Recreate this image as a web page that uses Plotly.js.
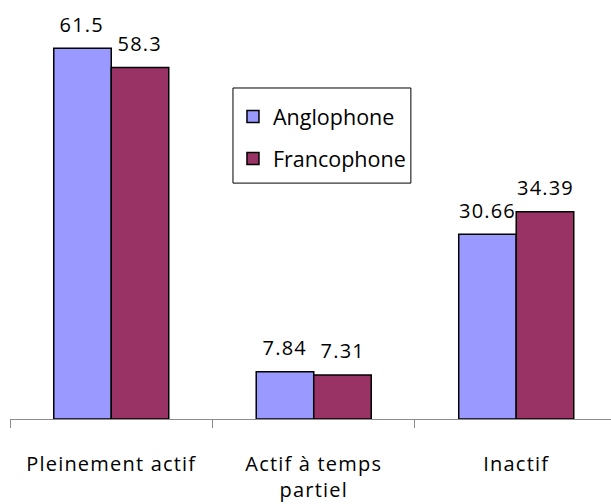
<!DOCTYPE html>
<html>
<head>
<meta charset="utf-8">
<script src="https://cdn.plot.ly/plotly-3.0.1.min.js"></script>
<style>
html,body{margin:0;padding:0;background:#fff;}
#chart{width:611px;height:504px;}
#chart svg text{letter-spacing:1.2px;}
#chart svg .legend text{letter-spacing:0;}
</style>
</head>
<body>
<div id="chart"></div>
<script>
const categories = ["Pleinement actif", "Actif à temps<br>partiel", "Inactif"];
const seriesNames = ["Anglophone", "Francophone"];
const anglophone = [61.5, 7.84, 30.66];
const francophone = [58.3, 7.31, 34.39];
const labelsAnglo = ["61.5", "7.84", "30.66"];
const labelsFranco = ["58.3", "7.31", "34.39"];

const FONT = "Open Sans, Arial, sans-serif";

const traces = [
  {type: "bar", name: seriesNames[0], x: categories, y: anglophone, legendgroup: "a",
   marker: {color: "#9999FF", line: {color: "#000", width: 1.5}}, hoverinfo: "none"},
  {type: "bar", name: seriesNames[1], x: categories, y: francophone, legendgroup: "f",
   marker: {color: "#993366", line: {color: "#000", width: 1.5}}, hoverinfo: "none"}
];

const annotations = [];
categories.forEach((c, i) => {
  annotations.push({x: c, y: anglophone[i], xref: "x", yref: "y", text: labelsAnglo[i],
    showarrow: false, xshift: -29, yshift: 24, yanchor: "middle",
    font: {family: FONT, size: 20, color: "#000"}});
  annotations.push({x: c, y: francophone[i], xref: "x", yref: "y", text: labelsFranco[i],
    showarrow: false, xshift: 29, yshift: 24, yanchor: "middle",
    font: {family: FONT, size: 20, color: "#000"}});
});

const layout = {
  width: 611, height: 504,
  margin: {l: 10, r: 0, t: 0, b: 85},
  paper_bgcolor: "#fff", plot_bgcolor: "#fff",
  barmode: "group", bargap: 0.432, bargroupgap: 0,
  font: {family: FONT, size: 20, color: "#000"},
  showlegend: true,
  legend: {x: 0.371, y: 0.771, xanchor: "left", yanchor: "top",
    borderwidth: 0, bgcolor: "rgba(0,0,0,0)",
    traceorder: "grouped", tracegroupgap: 11,
    font: {family: FONT, size: 21.5, color: "#000"}},
  shapes: [{type: "rect", xref: "paper", yref: "paper",
    x0: 0.371, x1: 0.667, y0: 0.563, y1: 0.79,
    line: {color: "#000", width: 1}, fillcolor: "rgba(0,0,0,0)", layer: "above"}],
  xaxis: {type: "category", range: [-0.5, 2.468], showline: true, linecolor: "#8c8c8c", linewidth: 1,
    ticks: "outside", ticklen: 8, tickcolor: "#8c8c8c", tickson: "boundaries",
    ticklabelstandoff: 27, showgrid: false, zeroline: false, fixedrange: true,
    tickfont: {family: FONT, size: 20, color: "#000"}},
  yaxis: {range: [0, 69.5], visible: false, showgrid: false, zeroline: false, fixedrange: true},
  annotations: annotations
};

Plotly.newPlot("chart", traces, layout, {displayModeBar: false, staticPlot: true});
</script>
</body>
</html>
